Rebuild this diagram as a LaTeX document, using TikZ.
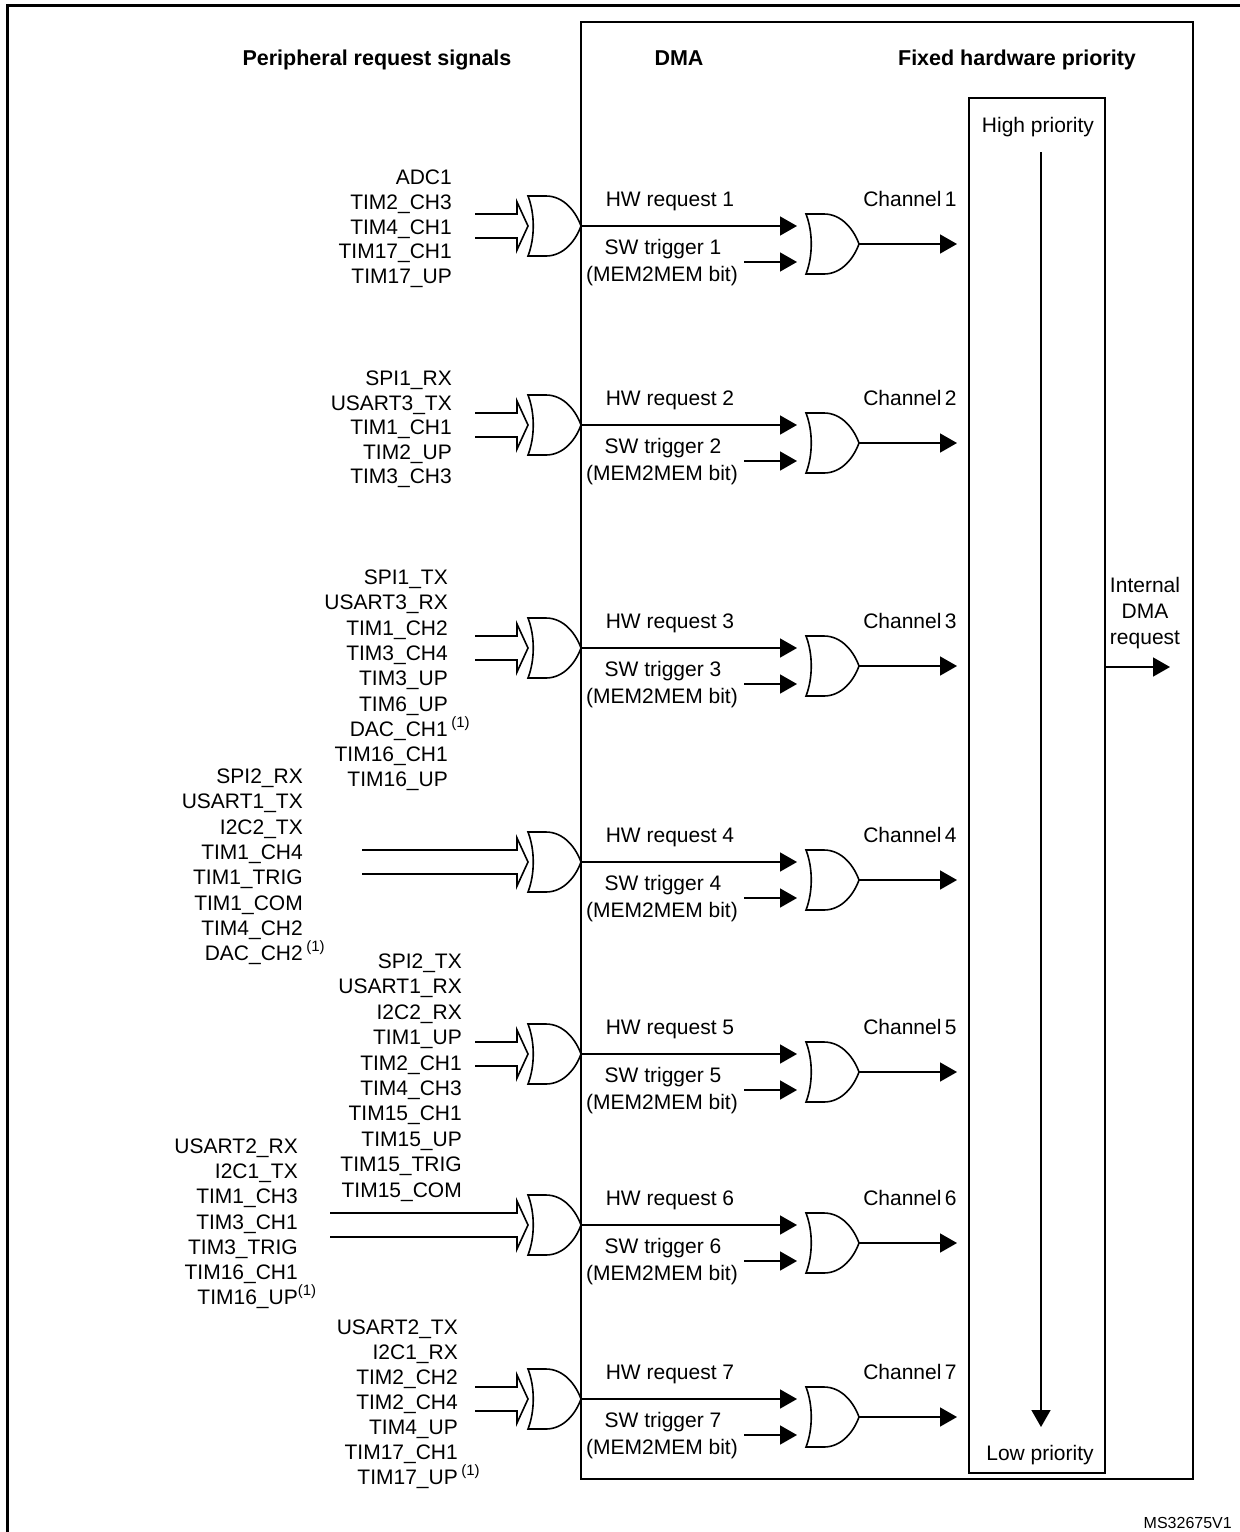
\documentclass[tikz,border=0pt]{standalone}
\usepackage{fontspec}
\setmainfont{Liberation Sans}
\usetikzlibrary{arrows.meta,calc}
\newcommand\myfnote{\rlap{\,\raisebox{9pt}{\fontsize{15}{15}\selectfont(1)}}}
\newcommand\myfnotetight{\rlap{\raisebox{9pt}{\fontsize{15}{15}\selectfont(1)}}}
\newcommand\hollowarrow[2]{\draw[wire] ($(#1)+(0,-12)$) -- ($(#2)+(-11,-12)$) -- ($(#2)+(-11,-24)$) -- (#2) -- ($(#2)+(-11,24)$) -- ($(#2)+(-11,12)$) -- ($(#1)+(0,12)$);}
\begin{document}
\begin{tikzpicture}[x=1pt,y=-1pt,
  lbl/.style={font=\fontsize{21}{25}\selectfont, inner sep=0pt, text height=15pt, text depth=0pt},
  hd/.style={font=\fontsize{21.5}{25}\selectfont\bfseries, inner sep=0pt, text height=15.5pt, text depth=0pt},
  wire/.style={line width=1.6pt},
  arr/.style={wire,-{Triangle[length=17pt,width=19pt]}},
  boxframe/.style={draw, line width=2pt, inner sep=0pt},
  orgate/.pic={
    \draw[wire] (0,-30) .. controls (7,-12) and (7,12) .. (0,30) -- (18,30) .. controls (36,30) and (48,14) .. (53,0) .. controls (48,-14) and (36,-30) .. (18,-30) -- cycle;
    \coordinate (-out) at (53,0);
    \coordinate (-in) at (0,0);
    \coordinate (-a) at (-9,-18);
    \coordinate (-b) at (-9,18);
  }]
\useasboundingbox (0,0) rectangle (1240,1532);
\fill[white] (0,0) rectangle (1240,1532);
% outer frame (partially visible)
\draw[line width=3pt] (7,1545) -- (7,5) -- (1250,5);
% boxes
\node[boxframe, minimum width=612pt, minimum height=1457pt] (dma) at (887,750.5) {};
\node[boxframe, minimum width=136pt, minimum height=1375pt] (prio) at (1037,785.5) {};
% headings
\node[hd] (hperiph) at (377,58) {Peripheral request signals};
\node[hd] (hdma) at (679,58) {DMA};
\node[hd] (hfix) at (1017,58) {Fixed hardware priority};
% priority
\node[lbl] (hipri) at (1038,125) {High priority};
\node[lbl] (lopri) at (1040,1453) {Low priority};
\coordinate (hp) at (1041,152);
\coordinate (lp) at (1041,1427);
\draw[arr] (hp) -- (lp);
% internal DMA request
\node[lbl] (int1) at (1145,585) {Internal};
\node[lbl] (int2) at (1145,611) {DMA};
\node[lbl] (int3) at (1145,637) {request};
\coordinate (iout) at (1170,667);
\draw[arr] (prio.east |- iout) -- (iout);
% channel rows
\foreach \c/\s [count=\i] in {226/475,425/475,648/475,862/362,1054/475,1225/330,1399/475}{
  \pic (ig\i) at (528,\c) {orgate};
  \pic (cg\i) at (806,{\c+18}) {orgate};
  \coordinate (st\i) at (\s,\c);
  \hollowarrow{st\i}{ig\i-in}
  \draw[arr] (ig\i-out) -- (cg\i-a);
  \coordinate (sw\i) at (744,{\c+36});
  \draw[arr] (sw\i) -- (cg\i-b);
  \coordinate (ch\i) at (957,{\c+18});
  \draw[arr] (cg\i-out) -- (ch\i);
  \node[lbl] (hw\i) at (670,{\c-27}) {HW request \i};
  \node[lbl] (chl\i) at (910,{\c-27}) {Channel\,\i};
  \node[lbl] (swt\i) at (663,{\c+21}) {SW trigger \i};
  \node[lbl] (mem\i) at (662,{\c+48}) {(MEM2MEM bit)};
}
% peripheral signal lists
\foreach \t [count=\i from 0] in {ADC1,TIM2\_CH3,TIM4\_CH1,TIM17\_CH1,TIM17\_UP}
  \node[lbl,anchor=east] (pa\i) at (452,{177+24.75*\i}) {\t};
\foreach \t [count=\i from 0] in {SPI1\_RX,USART3\_TX,TIM1\_CH1,TIM2\_UP,TIM3\_CH3}
  \node[lbl,anchor=east] (pb\i) at (452,{378+24.5*\i}) {\t};
\foreach \t [count=\i from 0] in {SPI1\_TX,USART3\_RX,TIM1\_CH2,TIM3\_CH4,TIM3\_UP,TIM6\_UP,{DAC\_CH1\myfnote},TIM16\_CH1,TIM16\_UP}
  \node[lbl,anchor=east] (pc\i) at (448,{577+25.3*\i}) {\t};
\foreach \t [count=\i from 0] in {SPI2\_RX,USART1\_TX,I2C2\_TX,TIM1\_CH4,TIM1\_TRIG,TIM1\_COM,TIM4\_CH2,{DAC\_CH2\myfnote}}
  \node[lbl,anchor=east] (pd\i) at (303,{776+25.3*\i}) {\t};
\foreach \t [count=\i from 0] in {SPI2\_TX,USART1\_RX,I2C2\_RX,TIM1\_UP,TIM2\_CH1,TIM4\_CH3,TIM15\_CH1,TIM15\_UP,TIM15\_TRIG,TIM15\_COM}
  \node[lbl,anchor=east] (pe\i) at (462,{961+25.4*\i}) {\t};
\foreach \t [count=\i from 0] in {USART2\_RX,I2C1\_TX,TIM1\_CH3,TIM3\_CH1,TIM3\_TRIG,TIM16\_CH1,{TIM16\_UP\myfnotetight}}
  \node[lbl,anchor=east] (pf\i) at (298,{1146+25.2*\i}) {\t};
\foreach \t [count=\i from 0] in {USART2\_TX,I2C1\_RX,TIM2\_CH2,TIM2\_CH4,TIM4\_UP,TIM17\_CH1,{TIM17\_UP\myfnote}}
  \node[lbl,anchor=east] (pg\i) at (458,{1327+25*\i}) {\t};
% reference id
\node[font=\fontsize{16}{18}\selectfont, inner sep=0pt, anchor=east] (msid) at (1232,1523) {MS32675V1};
\end{tikzpicture}
\end{document}
